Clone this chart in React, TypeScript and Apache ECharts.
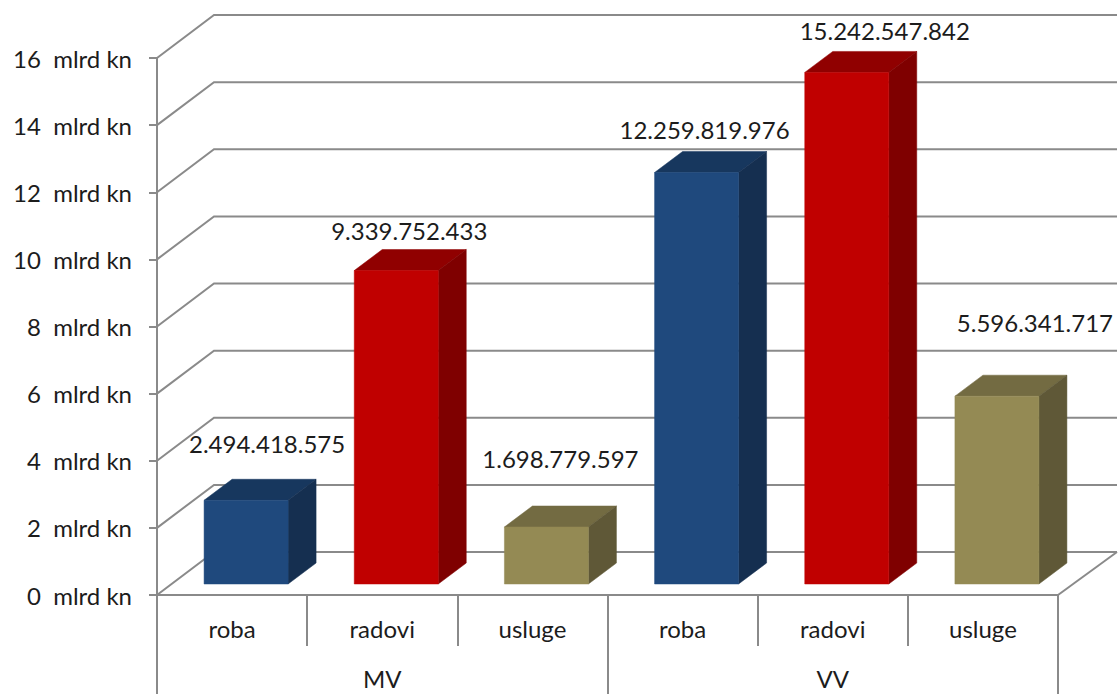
import React, { useEffect, useRef } from "react";
import * as echarts from "echarts";

const categories = ["roba", "radovi", "usluge", "roba", "radovi", "usluge"];
const groups = ["MV", "VV"];
const values = [2494418575, 9339752433, 1698779597, 12259819976, 15242547842, 5596341717];
const yTicks = [0, 2e9, 4e9, 6e9, 8e9, 10e9, 12e9, 14e9, 16e9];

// Hand-placed label nudges from the top-front centre of each bar, as in the reference.
const labelDx = [21, 13, 14, 8, 38, 38];
const labelDy = [-57, -40, -68, -43, -41.5, -74];

const palette = [
  { front: "#1F497D", top: "#17375E", side: "#152F50" },
  { front: "#C00000", top: "#900000", side: "#7F0000" },
  { front: "#948A54", top: "#736B42", side: "#5F5837" },
];

const FONT = "Lato";
const FONT_SIZE = 24;
const TEXT = "#1c1c1c";
const LINE = "#8a8a8a";
const WALL_DX = 57;
const WALL_DY = 43;
const WALL_EXTRA = 2;
const BAR_W = 84;
const BAR_SHIFT = 14;
const BAR_LIFT = 11;
const DEPTH_X = 28;
const DEPTH_Y = 21;

const fmt = (v: number) => String(v).replace(/\B(?=(\d{3})+(?!\d))/g, ".");

export default function App() {
  const ref = useRef<HTMLDivElement>(null);
  useEffect(() => {
    const chart = echarts.init(ref.current!, undefined, { renderer: "svg" });
    const wallItem = (params: any, api: any) => {
      const cs = params.coordSys;
      const y = api.coord([0, api.value(1)])[1];
      const line = (points: number[][]) => ({
        type: "polyline",
        shape: { points },
        style: { stroke: LINE, lineWidth: 2, fill: "none" },
      });
      const children: any[] = [
        line([
          [cs.x, y],
          [cs.x + WALL_DX, y - WALL_DY],
          [cs.x + cs.width + WALL_DX + WALL_EXTRA, y - WALL_DY],
        ]),
      ];
      if (api.value(1) === 0) {
        children.push(
          line([
            [cs.x + cs.width, y],
            [cs.x + cs.width + WALL_DX + WALL_EXTRA, y - WALL_DY],
          ])
        );
      }
      return { type: "group", children };
    };
    const barItem = (params: any, api: any) => {
      const i = api.value(0);
      const v = api.value(1);
      const c = palette[i % 3];
      const top = api.coord([i, v]);
      const base = api.coord([i, 0]);
      const l = base[0] + BAR_SHIFT - BAR_W / 2;
      const r = l + BAR_W;
      const b = base[1] - BAR_LIFT;
      const t = top[1] - BAR_LIFT;
      const poly = (points: number[][], fill: string) => ({
        type: "polygon",
        shape: { points },
        style: { fill, stroke: fill, lineWidth: 0.5 },
      });
      return {
        type: "group",
        children: [
          poly([[l, t], [r, t], [r + DEPTH_X, t - DEPTH_Y], [l + DEPTH_X, t - DEPTH_Y]], c.top),
          poly([[r, t], [r + DEPTH_X, t - DEPTH_Y], [r + DEPTH_X, b - DEPTH_Y], [r, b]], c.side),
          poly([[l, t], [r, t], [r, b], [l, b]], c.front),
          {
            type: "text",
            z2: 10,
            style: {
              text: fmt(v),
              x: (l + r) / 2 + labelDx[i],
              y: t + labelDy[i],
              align: "center",
              verticalAlign: "middle",
              fontFamily: FONT,
              fontSize: FONT_SIZE,
              fill: TEXT,
            },
          },
        ],
      };
    };
    chart.setOption({
      animation: false,
      backgroundColor: "#ffffff",
      grid: { left: 157, right: 62, top: 58, bottom: 99 },
      xAxis: [
        {
          type: "category",
          data: categories,
          position: "bottom",
          axisLine: { lineStyle: { color: LINE, width: 2 } },
          axisTick: { show: true, interval: 0, length: 51, lineStyle: { color: LINE, width: 2 } },
          axisLabel: { margin: 21, fontFamily: FONT, fontSize: FONT_SIZE, color: TEXT, interval: 0 },
        },
        {
          type: "category",
          data: groups,
          position: "bottom",
          axisLine: { show: false },
          axisTick: { show: true, interval: 0, length: 100, lineStyle: { color: LINE, width: 2 } },
          axisLabel: { margin: 71, fontFamily: FONT, fontSize: FONT_SIZE, color: TEXT },
        },
      ],
      yAxis: {
        type: "value",
        min: 0,
        max: 16e9,
        interval: 2e9,
        splitLine: { show: false },
        axisLine: { show: true, lineStyle: { color: LINE, width: 2 } },
        axisTick: { show: true, length: 8, lineStyle: { color: LINE, width: 2 } },
        axisLabel: {
          margin: 25,
          fontFamily: FONT,
          fontSize: FONT_SIZE,
          color: TEXT,
          formatter: (v: number) => `${v / 1e9}\u00A0\u00A0mlrd kn`,
        },
      },
      series: [
        {
          type: "custom",
          name: "zidovi",
          z: 1,
          clip: false,
          renderItem: wallItem,
          encode: { x: 0, y: 1 },
          data: yTicks.map((t) => [0, t]),
        },
        {
          type: "custom",
          name: "vrijednost",
          z: 3,
          clip: false,
          renderItem: barItem,
          encode: { x: 0, y: 1 },
          data: values.map((v, i) => [i, v]),
        },
      ],
    });
    return () => chart.dispose();
  }, []);
  return (
    <div
      ref={ref}
      style={{ position: "fixed", left: 0, top: 0, width: 1120, height: 694 }}
    />
  );
}
